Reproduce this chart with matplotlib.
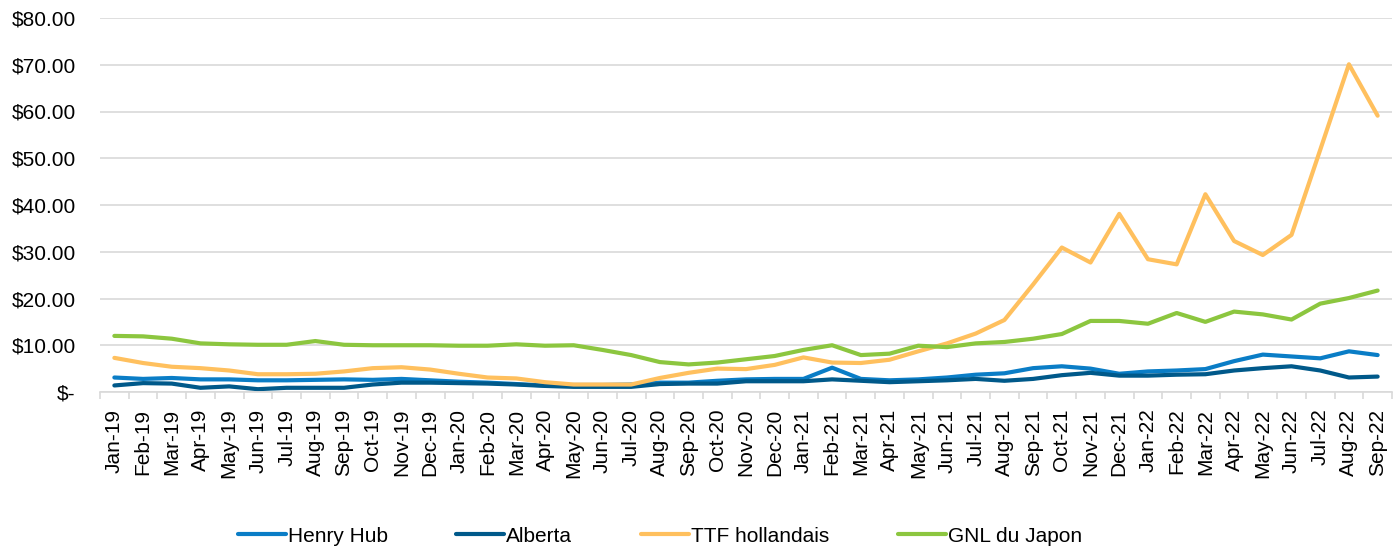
import matplotlib.pyplot as plt
from matplotlib.ticker import FuncFormatter, MultipleLocator

plt.rcParams['font.family'] = ['Liberation Sans', 'DejaVu Sans']

months = ["Jan", "Feb", "Mar", "Apr", "May", "Jun", "Jul", "Aug", "Sep", "Oct", "Nov", "Dec"]
labels = [m + "-" + y for y in ["19", "20", "21", "22"] for m in months][:45]

henry_hub = [3.1, 2.8, 3.0, 2.7, 2.7, 2.5, 2.5, 2.6, 2.7, 2.6, 2.8, 2.5,
             2.2, 2.0, 1.7, 1.4, 1.5, 1.5, 1.6, 2.0, 2.0, 2.4, 2.7, 2.8,
             2.8, 5.2, 2.8, 2.5, 2.7, 3.1, 3.7, 4.0, 5.1, 5.5, 5.0, 3.9,
             4.4, 4.6, 4.9, 6.6, 8.0, 7.6, 7.2, 8.7, 7.9]
alberta = [1.4, 1.9, 1.8, 0.9, 1.2, 0.6, 0.9, 0.9, 0.9, 1.6, 2.0, 2.0,
           1.9, 1.8, 1.6, 1.3, 1.1, 1.1, 1.1, 1.7, 1.8, 1.8, 2.3, 2.3,
           2.3, 2.7, 2.4, 2.1, 2.3, 2.5, 2.8, 2.4, 2.8, 3.6, 4.1, 3.5,
           3.5, 3.7, 3.8, 4.6, 5.1, 5.5, 4.6, 3.1, 3.3]
ttf = [7.3, 6.2, 5.4, 5.1, 4.6, 3.8, 3.8, 3.9, 4.4, 5.1, 5.3, 4.8,
       3.9, 3.1, 2.9, 2.1, 1.6, 1.6, 1.6, 3.0, 4.1, 5.0, 4.9, 5.8,
       7.4, 6.3, 6.2, 6.9, 8.7, 10.4, 12.5, 15.4, 23.0, 30.9, 27.7, 38.1,
       28.4, 27.3, 42.3, 32.3, 29.3, 33.6, 51.8, 70.1, 59.1]
gnl_japon = [12.0, 11.9, 11.4, 10.4, 10.2, 10.1, 10.1, 10.9, 10.1, 10.0, 10.0, 10.0,
             9.9, 9.9, 10.2, 9.9, 10.0, 9.0, 7.9, 6.4, 5.9, 6.3, 7.0, 7.7,
             9.0, 10.0, 7.9, 8.2, 9.9, 9.6, 10.4, 10.7, 11.4, 12.4, 15.2, 15.2,
             14.6, 16.9, 15.0, 17.2, 16.6, 15.5, 18.9, 20.1, 21.7]

fig = plt.figure(figsize=(13.95, 5.48), dpi=100)
ax = fig.add_axes([100 / 1395, 1 - 392 / 548, 1292 / 1395, 374 / 548])

x = range(len(labels))
ax.plot(x, henry_hub, color="#0A7DC6", lw=3, label="Henry Hub", solid_capstyle="round")
ax.plot(x, alberta, color="#00598A", lw=3, label="Alberta", solid_capstyle="round")
ax.plot(x, ttf, color="#FFC05E", lw=3, label="TTF hollandais", solid_capstyle="round")
ax.plot(x, gnl_japon, color="#8CC63F", lw=3, label="GNL du Japon", solid_capstyle="round")

ax.set_xlim(-0.5, len(labels) - 0.5)
ax.set_ylim(0, 80)
ax.yaxis.set_major_locator(MultipleLocator(10))
ax.yaxis.set_major_formatter(FuncFormatter(lambda v, p: "$-" if v == 0 else "${:.2f}".format(v)))
ax.grid(axis="y", color="#D9D9D9", lw=1.2)
ax.set_axisbelow(True)

ax.set_xticks(list(x))
ax.set_xticklabels(labels, rotation=90, fontsize=15)
ax.set_xticks([i - 0.5 for i in range(len(labels) + 1)], minor=True)
ax.tick_params(axis="x", which="major", length=0, pad=12)
ax.tick_params(axis="x", which="minor", length=5, color="#D9D9D9", width=1.2)
ax.tick_params(axis="y", length=0, labelsize=15, pad=17.5)

for s in ["top", "right", "left"]:
    ax.spines[s].set_visible(False)
ax.spines["bottom"].set_color("#D9D9D9")
ax.spines["bottom"].set_linewidth(1.2)

fig.legend(loc="center", bbox_to_anchor=(660 / 1395, 1 - 536 / 548), ncol=4,
           frameon=False, fontsize=15, handlelength=2.3, handletextpad=0.1,
           columnspacing=3.3)

fig.savefig("out.png", dpi=100)
